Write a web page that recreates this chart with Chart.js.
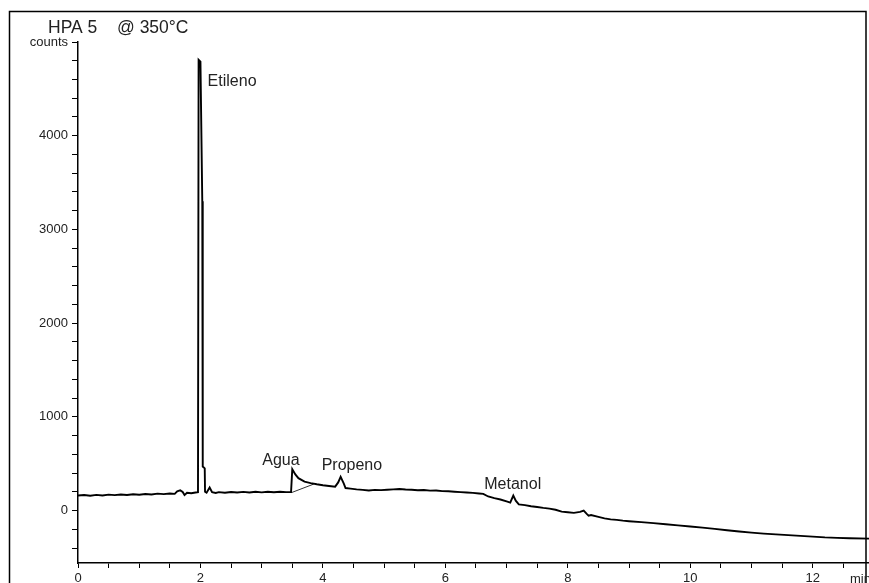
<!DOCTYPE html>
<html>
<head>
<meta charset="utf-8">
<script src="https://cdn.jsdelivr.net/npm/chart.js@4.4.1/dist/chart.umd.min.js"></script>
<style>
  html, body { margin: 0; padding: 0; background: #fff; }
  #wrap { width: 869px; height: 583px; position: relative; }
</style>
</head>
<body>
<div id="wrap"><canvas id="myChart1"></canvas></div>
<script>
// retention time (min) and detector signal (counts)
const times = [
  0.00, 0.10, 0.20, 0.30, 0.40, 0.50, 0.60, 0.70, 0.80, 0.90,
  1.00, 1.10, 1.20, 1.30, 1.40, 1.50, 1.58, 1.62, 1.67, 1.71,
  1.74, 1.78, 1.85, 1.92, 1.96, 1.97, 2.00, 2.03, 2.035, 2.04,
  2.07, 2.075, 2.10, 2.15, 2.19, 2.25, 2.30, 2.40, 2.50, 2.60,
  2.70, 2.80, 2.90, 3.00, 3.10, 3.20, 3.30, 3.40, 3.48, 3.50,
  3.55, 3.60, 3.70, 3.80, 3.90, 4.00, 4.10, 4.20, 4.25, 4.29,
  4.34, 4.37, 4.45, 4.55, 4.65, 4.75, 4.85, 4.95, 5.05, 5.15,
  5.25, 5.35, 5.45, 5.55, 5.65, 5.75, 5.85, 5.95, 6.05, 6.15,
  6.25, 6.35, 6.45, 6.55, 6.62, 6.70, 6.80, 6.90, 7.00, 7.06,
  7.11, 7.15, 7.20, 7.30, 7.40, 7.50, 7.60, 7.70, 7.80, 7.90,
  8.00, 8.10, 8.20, 8.26, 8.31, 8.34, 8.38, 8.50, 8.60, 8.70,
  8.80, 8.90, 9.00, 9.20, 9.40, 9.60, 9.80, 10.00, 10.20, 10.40,
  10.60, 10.80, 11.00, 11.20, 11.40, 11.60, 11.80, 12.00, 12.20, 12.40,
  12.60, 12.92
];
const counts = [
  160, 166, 158, 167, 161, 170, 164, 171, 166, 174,
  169, 176, 171, 180, 175, 182, 178, 205, 215, 198,
  165, 190, 184, 192, 195, 4810, 4790, 3300, 1450, 470,
  450, 200, 190, 245, 195, 188, 196, 190, 198, 192,
  199, 193, 200, 194, 201, 195, 200, 196, 198, 440,
  385, 345, 308, 292, 280, 270, 262, 255, 300, 360,
  290, 240, 234, 226, 220, 214, 220, 218, 222, 226,
  230, 224, 221, 217, 219, 212, 214, 207, 205, 200,
  196, 193, 188, 182, 178, 150, 132, 118, 98, 85,
  160, 105, 65, 58, 46, 38, 28, 20, 8, -12,
  -18, -25, -15, 0, -35, -55, -48, -68, -84, -95,
  -100, -108, -114, -124, -134, -146, -158, -170, -183, -196,
  -210, -224, -236, -246, -255, -263, -271, -279, -287, -292,
  -296, -300
];
// integration baseline under the water peak
const aguaBaseTimes = [3.49, 3.85];
const aguaBaseCounts = [192, 282];

const peakNames = ['Etileno', 'Agua', 'Propeno', 'Metanol'];
const peakTimes = [1.97, 3.50, 4.29, 7.11];
const peakCounts = [4810, 440, 360, 160];

const xTicks = [0, 0.5, 1, 1.5, 2, 2.5, 3, 3.5, 4, 4.5, 5, 5.5, 6, 6.5, 7, 7.5, 8, 8.5, 9, 9.5, 10, 10.5, 11, 11.5, 12, 12.5];
const xLabels = [0, 2, 4, 6, 8, 10, 12];
const yTicks = [-400, -200, 0, 200, 400, 600, 800, 1000, 1200, 1400, 1600, 1800, 2000, 2200, 2400, 2600, 2800, 3000, 3200, 3400, 3600, 3800, 4000, 4200, 4400, 4600, 4800, 5000];
const yLabels = [0, 1000, 2000, 3000, 4000];

const font = '"Liberation Sans", Arial, sans-serif';
const labelOffsets = [[9, 26], [-30, -4], [-19, -7], [-29, -7]];

const decorations = {
    id: 'decorations',
    afterDraw(chart) {
        const c = chart.ctx;
        const xs = chart.scales.x, ys = chart.scales.y;
        c.save();
        // frame
        c.strokeStyle = '#000';
        c.lineWidth = 1.5;
        c.beginPath();
        c.moveTo(9.5, 600);
        c.lineTo(9.5, 11.5);
        c.lineTo(866, 11.5);
        c.lineTo(866, 600);
        c.stroke();
        // title
        c.fillStyle = '#222';
        c.font = '17.5px ' + font;
        c.textBaseline = 'alphabetic';
        c.fillText('HPA 5', 48, 33);
        c.fillText('@ 350°C', 117, 33);
        // peak names
        c.font = '16px ' + font;
        peakNames.forEach((name, i) => {
            const px = xs.getPixelForValue(peakTimes[i]);
            const py = ys.getPixelForValue(peakCounts[i]);
            c.fillText(name, px + labelOffsets[i][0], py + labelOffsets[i][1]);
        });
        // x unit
        c.font = '13px ' + font;
        c.textBaseline = 'top';
        c.fillText('min', 850, 573);
        c.restore();
    }
};

const ctx = document.getElementById('myChart1');

new Chart(ctx, {
    type: 'line',
    data: {
        datasets: [{
            label: 'HPA 5',
            data: times.map((t, i) => ({ x: t, y: counts[i] })),
            borderColor: '#000',
            borderWidth: 1.9,
            pointRadius: 0,
            tension: 0
        }, {
            label: 'baseline',
            data: aguaBaseTimes.map((t, i) => ({ x: t, y: aguaBaseCounts[i] })),
            borderColor: '#333',
            borderWidth: 1,
            pointRadius: 0
        }]
    },
    plugins: [decorations],
    options: {
        responsive: true,
        maintainAspectRatio: false,
        animation: false,
        layout: { padding: { top: 42, left: 0, right: 0, bottom: 0 } },
        plugins: {
            legend: { display: false },
            tooltip: { enabled: false }
        },
        scales: {
            x: {
                type: 'linear',
                min: 0,
                max: 12.92,
                afterBuildTicks: s => { s.ticks = xTicks.map(v => ({ value: v })); },
                afterFit: s => { s.height = 20; },
                grid: { drawOnChartArea: false, tickLength: 5, color: '#000' },
                border: { color: '#000', width: 1.5 },
                ticks: {
                    autoSkip: false,
                    maxRotation: 0,
                    padding: 3,
                    color: '#222',
                    font: { family: font, size: 13 },
                    callback: v => xLabels.includes(v) ? String(v) : ''
                }
            },
            y: {
                min: -560,
                max: 5000,
                afterBuildTicks: s => { s.ticks = yTicks.map(v => ({ value: v })); },
                afterFit: s => { s.width = 78; },
                grid: { drawOnChartArea: false, tickLength: 6, color: '#000' },
                border: { color: '#000', width: 1.5 },
                ticks: {
                    autoSkip: false,
                    padding: 4,
                    color: '#222',
                    font: { family: font, size: 13 },
                    callback: v => v === 5000 ? 'counts' : (yLabels.includes(v) ? String(v) : '')
                }
            }
        }
    }
});
</script>
</body>
</html>
